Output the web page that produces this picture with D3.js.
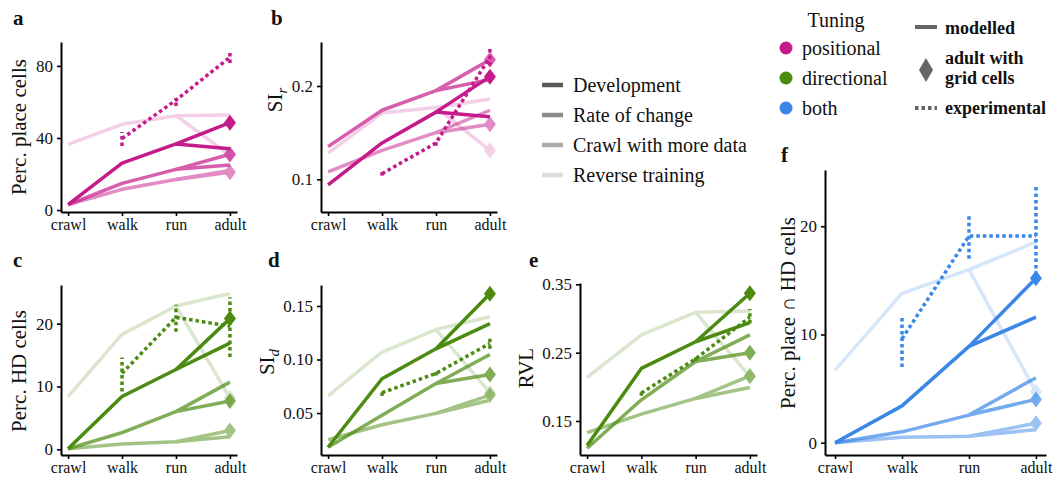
<!DOCTYPE html>
<html>
<head>
<meta charset="utf-8">
<script src="https://cdn.jsdelivr.net/npm/d3@7"></script>
<style>
  body { margin: 0; background: #fff; }
  text { font-family: "Liberation Serif", "DejaVu Serif", serif; fill: #111; }
</style>
</head>
<body>
<div></div>
<script>
const stages = ["crawl", "walk", "run", "adult"];
const conditions = ["Development", "Rate of change", "Crawl with more data", "Reverse training"];
const tunings = ["positional", "directional", "both"];

// modelled series: crawl, walk, run, adult, adult with grid cells
// experimental: walk, run, adult (mean, low, high)

// a: percentage of place cells
const aDev = [3, 26, 36.7, 34, 48.5];
const aRate = [3, 14.8, 22.6, 25, 31];
const aMore = [3, 11.5, 17, 22, 21];
const aRev = [36.5, 47.6, 52.4, 52.8, 30.5];
const aExp = [39.7, 61, 84.8];
const aExpLo = [35.5, 57.8, 81.7];
const aExpHi = [43.3, 62.2, 88.9];
const aTicks = [0, 40, 80];

// b: SI_r
const bDev = [0.094, 0.139, 0.172, 0.167, 0.21];
const bRate = [0.135, 0.174, 0.195, 0.207, 0.228];
const bMore = [0.108, 0.131, 0.15, 0.174, 0.159];
const bRev = [0.128, 0.171, 0.177, 0.186, 0.131];
const bExp = [0.106, 0.139, 0.231];
const bExpLo = [0.104, 0.136, 0.222];
const bExpHi = [0.108, 0.142, 0.240];
const bTicks = [0.1, 0.2];

// c: percentage of HD cells
const cDev = [0.1, 8.4, 12.7, 16.9, 20.8];
const cRate = [0.1, 2.65, 6.0, 10.7, 7.7];
const cMore = [0.1, 0.85, 1.2, 2.0, 3.0];
const cRev = [8.4, 18.3, 22.8, 24.8, 8.2];
const cExp = [12.1, 21, 19.6];
const cExpLo = [9.2, 18.7, 14.7];
const cExpHi = [14.6, 23, 24.2];
const cTicks = [0, 10, 20];

// d: SI_d
const dDev = [0.018, 0.082, 0.110, 0.1335, 0.1615];
const dRate = [0.018, 0.048, 0.0776, 0.1047, 0.086];
const dMore = [0.025, 0.039, 0.0497, 0.062, 0.0668];
const dRev = [0.066, 0.107, 0.128, 0.14, 0.069];
const dExp = [0.069, 0.087, 0.115];
const dExpLo = [0.066, 0.085, 0.110];
const dExpHi = [0.072, 0.089, 0.122];
const dTicks = [0.05, 0.10, 0.15];

// e: RVL
const eDev = [0.114, 0.227, 0.266, 0.294, 0.337];
const eRate = [0.11, 0.181, 0.237, 0.276, 0.25];
const eMore = [0.133, 0.16, 0.183, 0.199, 0.216];
const eRev = [0.214, 0.276, 0.309, 0.311, 0.215];
const eExp = [0.191, 0.241, 0.302];
const eExpLo = [0.187, 0.238, 0.293];
const eExpHi = [0.196, 0.244, 0.314];
const eTicks = [0.15, 0.25, 0.35];

// f: percentage of place and HD cells
const fDev = [0, 3.4, 8.9, 11.6, 15.2];
const fRate = [0, 1.0, 2.55, 6.0, 4.0];
const fMore = [0, 0.5, 0.6, 1.2, 1.8];
const fRev = [6.7, 13.8, 16.0, 18.55, 4.7];
const fExp = [9.6, 19.1, 19.1];
const fExpLo = [7.0, 17.0, 14.9];
const fExpHi = [11.8, 21.2, 23.9];
const fTicks = [0, 10, 20];

const pink = "#c51b8a", green = "#4b8b0f", blue = "#3a87e8";
const alphas = [1, 0.7, 0.5, 0.2];
const diamond = "M0,-8L6,0L0,8L-6,0Z";

const panels = [
  { key: "a", color: pink, series: [aDev, aRate, aMore, aRev], exp: [aExp, aExpLo, aExpHi], ticks: aTicks, fmt: "d",
    domain: [-1.1, 93.3], left: 61, right: 237, top: 42, bottom: 212, pad: 0.131, lab: [13, 25],
    title: [26, 127], titleParts: [["Perc. place cells"]] },
  { key: "b", color: pink, series: [bDev, bRate, bMore, bRev], exp: [bExp, bExpLo, bExpHi], ticks: bTicks, fmt: ".1f",
    domain: [0.065, 0.2471], left: 321, right: 497, top: 42, bottom: 212, pad: 0.131, lab: [271, 25],
    title: [282, 100], titleParts: [["SI"], ["r", "sub"]] },
  { key: "c", color: green, series: [cDev, cRate, cMore, cRev], exp: [cExp, cExpLo, cExpHi], ticks: cTicks, fmt: "d",
    domain: [-0.9, 26.15], left: 61, right: 237, top: 285, bottom: 455, pad: 0.131, lab: [13, 267],
    title: [26, 371], titleParts: [["Perc. HD cells"]] },
  { key: "d", color: green, series: [dDev, dRate, dMore, dRev], exp: [dExp, dExpLo, dExpHi], ticks: dTicks, fmt: ".2f",
    domain: [0.0108, 0.1696], left: 321, right: 497, top: 285, bottom: 455, pad: 0.131, lab: [268, 267],
    title: [274, 362], titleParts: [["SI"], ["d", "sub"]] },
  { key: "e", color: green, series: [eDev, eRate, eMore, eRev], exp: [eExp, eExpLo, eExpHi], ticks: eTicks, fmt: ".2f",
    domain: [0.1002, 0.352], left: 580, right: 757, top: 283, bottom: 455, pad: 0.131, lab: [529, 267],
    title: [533, 368], titleParts: [["RVL"]] },
  { key: "f", color: blue, series: [fDev, fRate, fMore, fRev], exp: [fExp, fExpLo, fExpHi], ticks: fTicks, fmt: "d",
    domain: [-1.14, 25.2], left: 825, right: 1046, top: 170, bottom: 455, pad: 0.15, lab: [781, 162],
    title: [795, 313], titleParts: [["Perc. place \u2229 HD cells"]] }
];

const svg = d3.select("div").append("svg")
  .attr("width", 1058)
  .attr("height", 479);

panels.forEach(p => {
  const g = svg.append("g");
  const x = d3.scalePoint().domain(stages).range([p.left, p.right]).padding(p.pad);
  const y = d3.scaleLinear().domain(p.domain).range([p.bottom, p.top]);

  const xAxis = g.append("g")
    .attr("transform", "translate(0," + p.bottom + ")")
    .call(d3.axisBottom(x).tickSize(4).tickPadding(3).tickSizeOuter(0));
  const yAxis = g.append("g")
    .attr("transform", "translate(" + p.left + ",0)")
    .call(d3.axisLeft(y).tickValues(p.ticks).tickFormat(d3.format(p.fmt)).tickSize(4).tickPadding(4).tickSizeOuter(0));
  [xAxis, yAxis].forEach(ax => {
    ax.select(".domain").attr("stroke", "#000").attr("stroke-width", 2);
    ax.selectAll(".tick line").attr("stroke", "#000").attr("stroke-width", 1.6);
    ax.selectAll(".tick text").attr("font-family", "Liberation Serif").attr("font-size", 16).attr("fill", "#111");
  });
  yAxis.selectAll(".tick text").attr("font-size", 17);

  // modelled lines, lightest first
  [3, 2, 1, 0].forEach(i => {
    const v = p.series[i];
    const sg = g.append("g").attr("opacity", alphas[i]);
    sg.append("path")
      .attr("d", d3.line()(stages.map((s, j) => [x(s), y(v[j])])))
      .attr("fill", "none").attr("stroke", p.color).attr("stroke-width", 3.5)
      .attr("stroke-linejoin", "round");
    sg.append("path")
      .attr("d", d3.line()([[x("run"), y(v[2])], [x("adult"), y(v[4])]]))
      .attr("fill", "none").attr("stroke", p.color).attr("stroke-width", 3.5);
    sg.append("path")
      .attr("d", diamond)
      .attr("transform", "translate(" + x("adult") + "," + y(v[4]) + ")")
      .attr("fill", p.color);
  });

  // experimental
  const ex = stages.slice(1);
  g.append("path")
    .attr("d", d3.line()(ex.map((s, j) => [x(s), y(p.exp[0][j])])))
    .attr("fill", "none").attr("stroke", p.color).attr("stroke-width", 3.5)
    .attr("stroke-dasharray", "3.5,3");
  g.selectAll(".err")
    .data(ex)
    .enter()
    .append("line")
    .attr("x1", d => x(d)).attr("x2", d => x(d))
    .attr("y1", (d, j) => y(p.exp[1][j]))
    .attr("y2", (d, j) => y(p.exp[2][j]))
    .attr("stroke", p.color).attr("stroke-width", 3.5)
    .attr("stroke-dasharray", "3.5,3");

  // panel letter
  svg.append("text")
    .attr("x", p.lab[0]).attr("y", p.lab[1])
    .attr("font-size", 21).attr("font-weight", "bold")
    .text(p.key);

  // axis title
  const t = svg.append("text")
    .attr("transform", "translate(" + p.title[0] + "," + p.title[1] + ") rotate(-90)")
    .attr("text-anchor", "middle")
    .attr("font-size", 21);
  p.titleParts.forEach(part => {
    const ts = t.append("tspan").text(part[0]);
    if (part[1] === "sub") ts.attr("font-style", "italic").attr("font-size", 15).attr("dy", 5);
  });
});

// legend: conditions
const leg1 = svg.append("g");
conditions.forEach((c, i) => {
  const yy = 85 + i * 30;
  leg1.append("line")
    .attr("x1", 542).attr("x2", 563).attr("y1", yy).attr("y2", yy)
    .attr("stroke", "#595959").attr("stroke-width", 4.5).attr("opacity", alphas[i]);
  leg1.append("text").attr("x", 573).attr("y", yy + 6.5).attr("font-size", 20).text(c);
});

// legend: tuning
svg.append("text").attr("x", 836).attr("y", 27).attr("text-anchor", "middle").attr("font-size", 20).text("Tuning");
[pink, green, blue].forEach((col, i) => {
  const yy = 48 + i * 30;
  svg.append("circle").attr("cx", 786).attr("cy", yy).attr("r", 6.5).attr("fill", col);
  svg.append("text").attr("x", 802).attr("y", yy + 7).attr("font-size", 20).text(tunings[i]);
});

// legend: data type
const sans = "Liberation Sans";
svg.append("line").attr("x1", 915).attr("x2", 937).attr("y1", 27).attr("y2", 27)
  .attr("stroke", "#666").attr("stroke-width", 4);
svg.append("text").attr("x", 945).attr("y", 34).attr("font-family", sans).attr("font-weight", "bold").attr("font-size", 18).text("modelled");
svg.append("path").attr("d", "M0,-12L7,0L0,12L-7,0Z").attr("transform", "translate(926,70)").attr("fill", "#666");
svg.append("text").attr("x", 945).attr("y", 64).attr("font-family", sans).attr("font-weight", "bold").attr("font-size", 18).text("adult with");
svg.append("text").attr("x", 945).attr("y", 84).attr("font-family", sans).attr("font-weight", "bold").attr("font-size", 18).text("grid cells");
svg.append("line").attr("x1", 915).attr("x2", 937).attr("y1", 108).attr("y2", 108)
  .attr("stroke", "#666").attr("stroke-width", 4).attr("stroke-dasharray", "3.5,3");
svg.append("text").attr("x", 945).attr("y", 114).attr("font-family", sans).attr("font-weight", "bold").attr("font-size", 18).text("experimental");
</script>
</body>
</html>
